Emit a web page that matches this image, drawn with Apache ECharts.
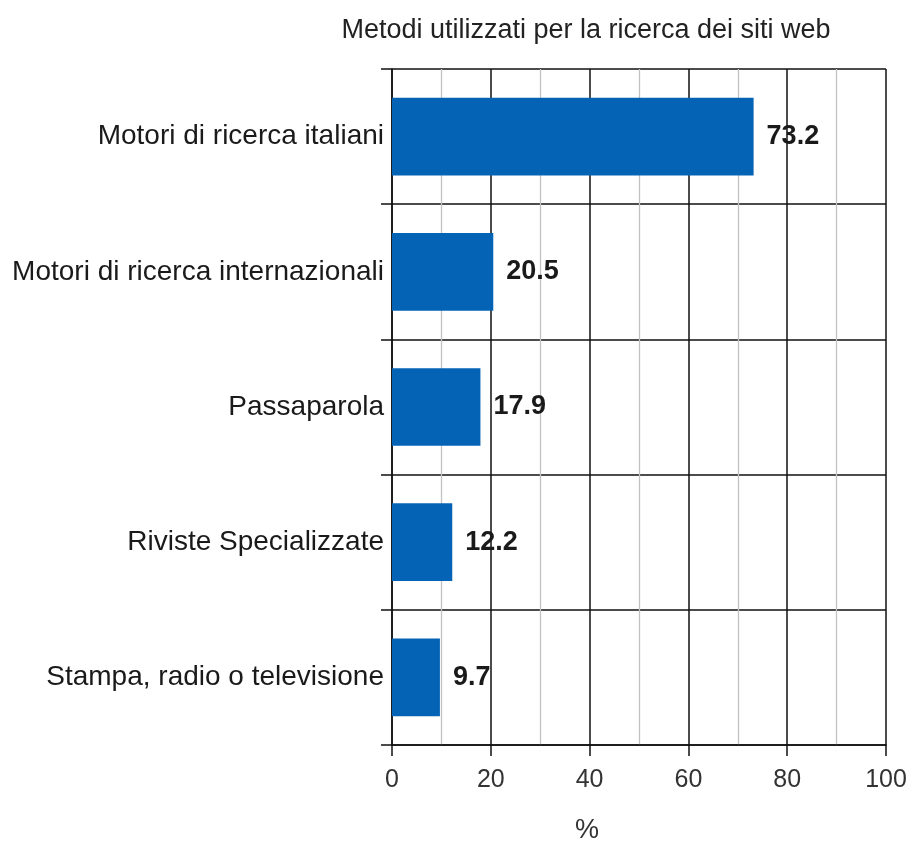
<!DOCTYPE html>
<html>
<head>
<meta charset="utf-8">
<script src="https://cdn.jsdelivr.net/npm/echarts@6/dist/echarts.min.js"></script>
<style>
  html, body { margin: 0; padding: 0; background: #fff; }
  #chart { width: 913px; height: 841px; }
</style>
</head>
<body>
<div id="chart"></div>
<script>
// Survey answers: how users find websites
const categories = [
  'Motori di ricerca italiani',
  'Motori di ricerca internazionali',
  'Passaparola',
  'Riviste Specializzate',
  'Stampa, radio o televisione'
];
const values = [73.2, 20.5, 17.9, 12.2, 9.7];
const chartTitle = 'Metodi utilizzati per la ricerca dei siti web';
const axisUnit = '%';

const fontFamily = '"Liberation Sans", Arial, sans-serif';
const chart = echarts.init(document.getElementById('chart'));

chart.setOption({
  backgroundColor: '#ffffff',
  animation: false,
  title: [
    {
      text: chartTitle,
      left: 586,
      top: 17,
      padding: 0,
      textAlign: 'center',
      textStyle: { fontFamily, fontSize: 27, fontWeight: 'normal', color: '#222' }
    },
    {
      text: axisUnit,
      left: 587,
      top: 817,
      padding: 0,
      textAlign: 'center',
      textStyle: { fontFamily, fontSize: 27, fontWeight: 'normal', color: '#333' }
    }
  ],
  grid: { left: 392, right: 27, top: 69, bottom: 96, containLabel: false },
  xAxis: {
    type: 'value',
    min: 0,
    max: 100,
    interval: 20,
    axisLine: { show: true, lineStyle: { color: '#111', width: 1.5 } },
    axisTick: { show: true, length: 11, lineStyle: { color: '#111', width: 1.5 } },
    axisLabel: { fontFamily, fontSize: 25, color: '#333', margin: 23 },
    splitLine: { show: true, lineStyle: { color: '#111', width: 1.5 } },
    minorTick: { show: false, splitNumber: 2 },
    minorSplitLine: { show: true, lineStyle: { color: '#c2c2c2', width: 1.3 } }
  },
  yAxis: {
    type: 'category',
    data: categories,
    inverse: true,
    axisLine: { show: true, lineStyle: { color: '#111', width: 1.5 } },
    axisTick: { show: true, length: 11, lineStyle: { color: '#111', width: 1.5 } },
    axisLabel: { fontFamily, fontSize: 28, color: '#1a1a1a', margin: 8 },
    splitLine: { show: true, lineStyle: { color: '#111', width: 1.5 } }
  },
  series: [{
    type: 'bar',
    data: values,
    barWidth: '57.5%',
    itemStyle: { color: '#0563b5' },
    label: {
      show: true,
      position: 'right',
      distance: 13,
      fontFamily,
      fontSize: 27,
      fontWeight: 'bold',
      color: '#1a1a1a'
    }
  }]
});
</script>
</body>
</html>
